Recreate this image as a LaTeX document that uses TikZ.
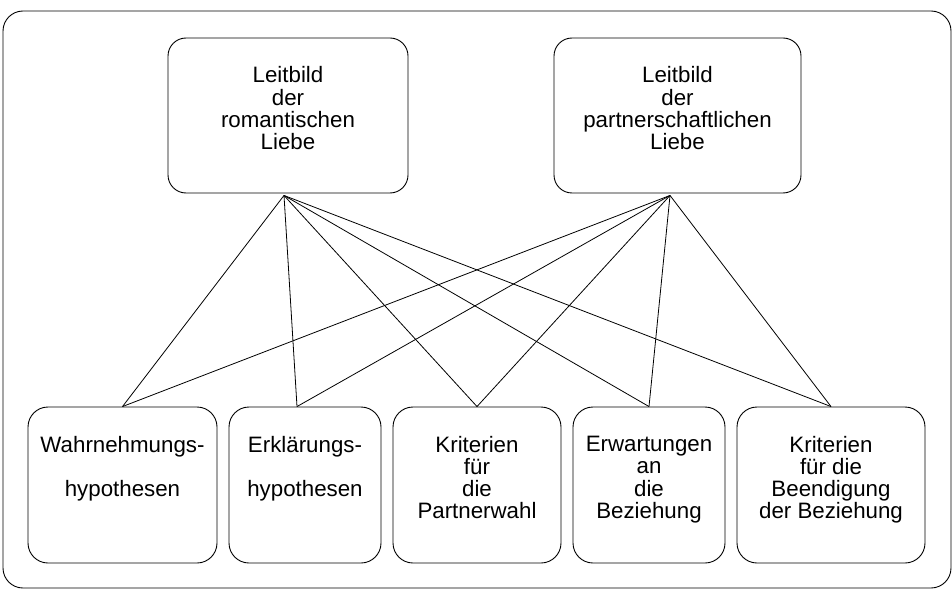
\documentclass[tikz,border=0pt]{standalone}
\usepackage{fontspec}
\setmainfont{Liberation Sans}
\newcommand\mylblfont{\fontsize{22.3}{22.2}\selectfont\lineskiplimit=-100pt\relax}
\begin{document}
\begin{tikzpicture}[x=1pt,y=-1pt,
  frame/.style={draw, line width=0.9pt, rounded corners=20pt, inner sep=0pt},
  topbox/.style={draw, line width=0.9pt, rounded corners=18pt, inner sep=0pt, minimum height=155pt},
  botbox/.style={draw, line width=0.9pt, rounded corners=20pt, inner sep=0pt, minimum height=156pt},
  lbl/.style={align=center, inner sep=0pt, font=\mylblfont,
    execute at begin node=\strut, execute at end node=\strut},
  link/.style={line width=0.8pt}]
\useasboundingbox (0,0) rectangle (952,596);
\node[frame, minimum width=948pt, minimum height=577pt] (outer) at (477,299.5) {};
% top boxes
\node[topbox, minimum width=240pt] (lt) at (288,115.5) {};
\node[topbox, minimum width=247pt] (rt) at (677.5,115.5) {};
\node[lbl] (ltt) at ([yshift=4pt]lt.center) {Leitbild\\der\\romantischen\\Liebe};
\node[lbl] (rtt) at ([yshift=4pt]rt.center) {Leitbild\\der\\partnerschaftlichen\\Liebe};
% bottom boxes
\node[botbox, minimum width=189pt] (b1) at (122.5,485) {};
\node[botbox, minimum width=152pt] (b2) at (305,485) {};
\node[botbox, minimum width=168pt] (b3) at (477,485) {};
\node[botbox, minimum width=152pt] (b4) at (649,485) {};
\node[botbox, minimum width=188pt] (b5) at (831,485) {};
\node[lbl] (b1t) at ([yshift=4.4pt]b1.center) {Wahrnehmungs-\\[22.2pt]hypothesen\\};
\node[lbl] (b2t) at ([yshift=4.4pt]b2.center) {Erklärungs-\\[22.2pt]hypothesen\\};
\node[lbl] (b3t) at ([yshift=4.4pt]b3.center) {Kriterien\\für\\die\\Partnerwahl};
\node[lbl] (b4t) at ([yshift=4.4pt]b4.center) {Erwartungen\\an\\die\\Beziehung};
\node[lbl] (b5t) at ([yshift=4.4pt]b5.center) {Kriterien\\für die\\Beendigung\\der Beziehung};
% connectors
\coordinate (la) at ([xshift=-4pt,yshift=-2pt]lt.south);
\coordinate (ra) at ([xshift=-7.5pt,yshift=-2pt]rt.south);
\foreach \s in {la,ra}{
  \draw[link] (\s) -- (b1.north);
  \draw[link] (\s) -- ([xshift=-8pt]b2.north);
  \draw[link] (\s) -- (b3.north);
  \draw[link] (\s) -- (b4.north);
  \draw[link] (\s) -- (b5.north);
}
\end{tikzpicture}
\end{document}
